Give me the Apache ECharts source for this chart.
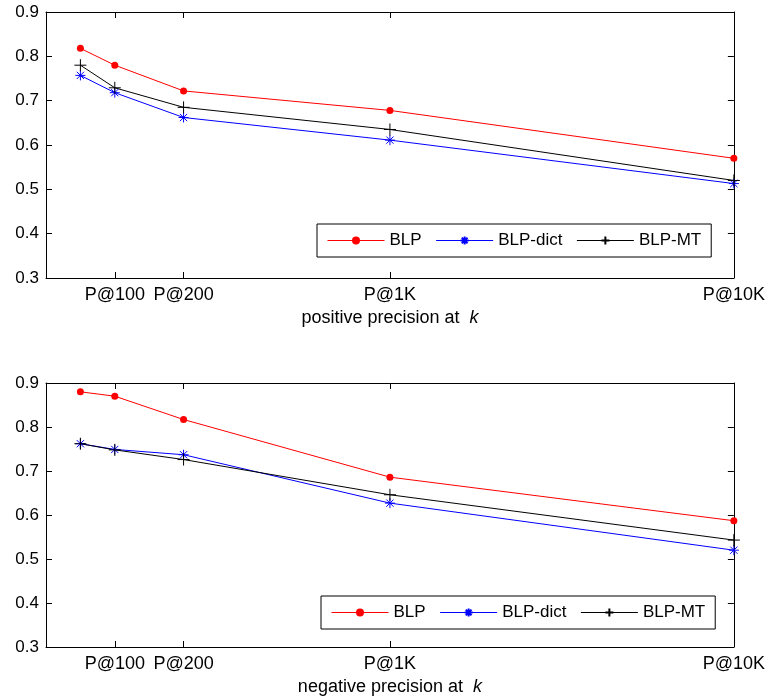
<!DOCTYPE html>
<html>
<head>
<meta charset="utf-8">
<script src="https://cdn.jsdelivr.net/npm/echarts@6/dist/echarts.min.js"></script>
<style>
html,body{margin:0;padding:0;background:#fff;}
#c{width:768px;height:700px;}
</style>
</head>
<body>
<div id="c"></div>
<script>
// x positions of the k values on the (linear) x scale used by the figure
const kPositions = [0.5, 1, 2, 5, 10];
const tickPositions = [1, 2, 5, 10];
const tickLabels = ['P@100', 'P@200', 'P@1K', 'P@10K'];
const seriesNames = ['BLP', 'BLP-dict', 'BLP-MT'];

// positive precision at k
const posBLP     = [0.818, 0.780, 0.722, 0.678, 0.570];
const posBLPdict = [0.757, 0.718, 0.662, 0.611, 0.513];
const posBLPMT   = [0.780, 0.729, 0.685, 0.635, 0.520];

// negative precision at k
const negBLP     = [0.880, 0.870, 0.817, 0.686, 0.587];
const negBLPdict = [0.762, 0.749, 0.737, 0.627, 0.520];
const negBLPMT   = [0.762, 0.748, 0.726, 0.646, 0.543];

const FONT = 'Liberation Sans, Arial, sans-serif';
const pts = arr => arr.map((v, i) => [kPositions[i], v]);

const plusPath = 'path://M0,-6 L0,6 M-6,0 L6,0';
const starPath = 'path://M0,-5 L0,5 M-5,0 L5,0 M-3.6,-3.6 L3.6,3.6 M-3.6,3.6 L3.6,-3.6';

function mkSeries(name, data, xi, yi) {
  const base = {name, type: 'line', xAxisIndex: xi, yAxisIndex: yi, data: pts(data),
    animation: false, silent: true};
  if (name === 'BLP') {
    return Object.assign(base, {symbol: 'circle', symbolSize: 7,
      lineStyle: {color: '#ff0000', width: 1},
      itemStyle: {color: '#ff0000', borderWidth: 0}});
  } else if (name === 'BLP-dict') {
    return Object.assign(base, {symbol: starPath, symbolSize: 10,
      lineStyle: {color: '#0000ff', width: 1},
      itemStyle: {color: 'transparent', borderColor: '#0000ff', borderWidth: 1}});
  }
  return Object.assign(base, {symbol: plusPath, symbolSize: 12,
    lineStyle: {color: '#000000', width: 1},
    itemStyle: {color: 'transparent', borderColor: '#000000', borderWidth: 1}});
}

function xAx(grid, pos, title) {
  return {
    type: 'value', gridIndex: grid, position: pos, min: 0, max: 10,
    axisLine: {show: true, onZero: false, lineStyle: {color: '#000', width: 1}},
    axisTick: {show: true, inside: true, length: 6, customValues: tickPositions,
      lineStyle: {color: '#000', width: 1}},
    axisLabel: {show: pos === 'bottom', customValues: tickPositions,
      formatter: v => tickLabels[tickPositions.indexOf(v)] || '',
      fontFamily: FONT, fontSize: 18, color: '#000', margin: 8},
    splitLine: {show: false},
    name: pos === 'bottom' ? title + '  {k|k}' : '',
    nameLocation: 'middle', nameGap: 31,
    nameTextStyle: {fontFamily: FONT, fontSize: 18, color: '#000',
      rich: {k: {fontFamily: FONT, fontSize: 18, fontStyle: 'italic', color: '#000'}}}
  };
}
function yAx(grid, pos) {
  return {
    type: 'value', gridIndex: grid, position: pos, min: 0.3, max: 0.9, interval: 0.1,
    axisLine: {show: true, onZero: false, lineStyle: {color: '#000', width: 1}},
    axisTick: {show: true, inside: true, length: 6, lineStyle: {color: '#000', width: 1}},
    axisLabel: {show: pos === 'left', fontFamily: FONT, fontSize: 17, color: '#000', margin: 7,
      formatter: v => v.toFixed(1)},
    splitLine: {show: false}
  };
}

function mkLegend(left, top) {
  return {
    left, top, orient: 'horizontal', selectedMode: false,
    data: seriesNames, itemWidth: 57, itemHeight: 10, itemGap: 14,
    padding: [7, 10, 7, 10], borderColor: '#000', borderWidth: 1, backgroundColor: '#fff',
    lineStyle: {width: 1},
    textStyle: {fontFamily: FONT, fontSize: 17, color: '#000', lineHeight: 19}
  };
}

const chart = echarts.init(document.getElementById('c'), null, {renderer: 'canvas'});
chart.setOption({
  animation: false,
  backgroundColor: '#fff',
  grid: [
    {left: 46, top: 12, width: 688, height: 266},
    {left: 46, top: 383, width: 688, height: 264}
  ],
  xAxis: [xAx(0, 'bottom', 'positive precision at'), xAx(0, 'top', ''),
          xAx(1, 'bottom', 'negative precision at'), xAx(1, 'top', '')],
  yAxis: [yAx(0, 'left'), yAx(0, 'right'), yAx(1, 'left'), yAx(1, 'right')],
  legend: [mkLegend(317, 224), mkLegend(321, 596)],
  series: [
    mkSeries('BLP', posBLP, 0, 0),
    mkSeries('BLP-dict', posBLPdict, 0, 0),
    mkSeries('BLP-MT', posBLPMT, 0, 0),
    mkSeries('BLP', negBLP, 2, 2),
    mkSeries('BLP-dict', negBLPdict, 2, 2),
    mkSeries('BLP-MT', negBLPMT, 2, 2)
  ]
});
</script>
</body>
</html>
